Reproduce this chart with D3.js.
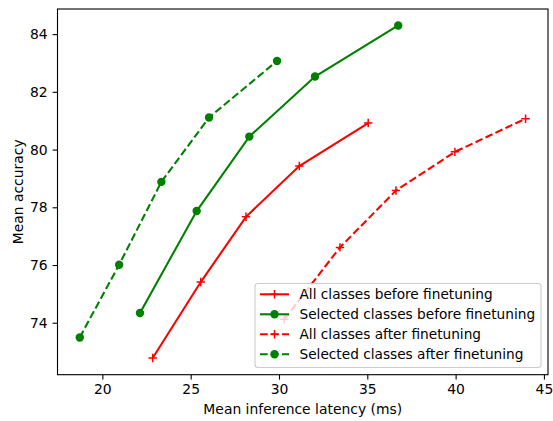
<!DOCTYPE html>
<html><head><meta charset="utf-8">
<script src="https://cdn.jsdelivr.net/npm/d3@7"></script>
<style>body{margin:0;background:#fff}svg{display:block;font-family:"DejaVu Sans",sans-serif}</style>
</head><body><svg id="c" width="553" height="421"></svg>
<script>
const seriesNames = ["All classes before finetuning","Selected classes before finetuning","All classes after finetuning","Selected classes after finetuning"];
const allBeforeX = [22.85, 25.57, 28.13, 31.15, 35.05];
const allBeforeY = [72.78, 75.41, 77.67, 79.43, 80.92];
const selBeforeX = [22.13, 25.34, 28.32, 32.04, 36.75];
const selBeforeY = [74.34, 77.87, 80.45, 82.53, 84.30];
const allAfterX = [30.30, 33.45, 36.62, 39.96, 43.96];
const allAfterY = [74.12, 76.61, 78.58, 79.92, 81.07];
const selAfterX = [18.72, 20.95, 23.34, 26.04, 29.89];
const selAfterY = [73.49, 76.01, 78.88, 81.11, 83.07];
const xTicks = [20, 25, 30, 35, 40, 45];
const yTicks = [74, 76, 78, 80, 82, 84];

const DASH = "7.7,3.3";
const series = [
  {name: seriesNames[0], xs: allBeforeX, ys: allBeforeY, color: "red", dash: null, marker: "plus"},
  {name: seriesNames[1], xs: selBeforeX, ys: selBeforeY, color: "green", dash: null, marker: "circle"},
  {name: seriesNames[2], xs: allAfterX, ys: allAfterY, color: "red", dash: DASH, marker: "plus"},
  {name: seriesNames[3], xs: selAfterX, ys: selAfterY, color: "green", dash: DASH, marker: "circle"}
];

const L = 57.5, R = 548, T = 9, B = 374.7;
const FS = 13.9;
const x = d3.scaleLinear().domain([17.46, 45.23]).range([L, R]);
const y = d3.scaleLinear().domain([72.2, 84.87]).range([B, T]);
const svg = d3.select("#c");

const plot = svg.append("g");
const line = d3.line().x(d => x(d[0])).y(d => y(d[1]));

function drawMarker(g, type, cx, cy, color) {
  if (type === "circle") {
    g.append("circle").attr("cx", cx).attr("cy", cy).attr("r", 4.2).attr("fill", color);
  } else {
    const s = 4.2;
    g.append("path").attr("d", `M${cx - s},${cy}H${cx + s}M${cx},${cy - s}V${cy + s}`)
      .attr("stroke", color).attr("stroke-width", 1.5).attr("fill", "none");
  }
}

series.forEach(s => {
  const pts = s.xs.map((v, i) => [v, s.ys[i]]);
  plot.append("path").attr("d", line(pts)).attr("fill", "none")
    .attr("stroke", s.color).attr("stroke-width", 2.08)
    .attr("stroke-dasharray", s.dash);
  pts.forEach(p => drawMarker(plot, s.marker, x(p[0]), y(p[1]), s.color));
});

// axes
const xAxis = svg.append("g").attr("transform", `translate(0,${B})`)
  .call(d3.axisBottom(x).tickValues(xTicks).tickSize(4.9).tickPadding(4.9).tickFormat(d3.format("d")));
const yAxis = svg.append("g").attr("transform", `translate(${L},0)`)
  .call(d3.axisLeft(y).tickValues(yTicks).tickSize(4.9).tickPadding(4.9).tickFormat(d3.format("d")));
[xAxis, yAxis].forEach(a => {
  a.select(".domain").remove();
  a.selectAll("line").attr("stroke", "#000").attr("stroke-width", 1.1);
  a.selectAll("text").attr("font-size", FS).attr("fill", "#000").attr("font-family", "DejaVu Sans");
});

svg.append("rect").attr("x", L).attr("y", T).attr("width", R - L).attr("height", B - T)
  .attr("fill", "none").attr("stroke", "#000").attr("stroke-width", 1.1);

svg.append("text").attr("x", (L + R) / 2).attr("y", 413.5).attr("text-anchor", "middle")
  .attr("font-size", FS).text("Mean inference latency (ms)");
svg.append("text").attr("transform", `translate(23,${(T + B) / 2}) rotate(-90)`)
  .attr("text-anchor", "middle").attr("font-size", FS).text("Mean accuracy");

// legend
const lg = svg.append("g");
lg.append("rect").attr("x", 255).attr("y", 283.5).attr("width", 286).attr("height", 84)
  .attr("rx", 3).attr("fill", "#fff").attr("fill-opacity", 0.8)
  .attr("stroke", "#cccccc").attr("stroke-width", 1.1);
series.forEach((s, i) => {
  const yy = 294.3 + i * 20;
  lg.append("line").attr("x1", 260).attr("x2", 289).attr("y1", yy).attr("y2", yy)
    .attr("stroke", s.color).attr("stroke-width", 2.08).attr("stroke-dasharray", s.dash)
    .attr("stroke-dashoffset", s.dash ? 0 : null);
  drawMarker(lg, s.marker, 274.5, yy, s.color);
  lg.append("text").attr("x", 299.5).attr("y", yy).attr("dy", "0.35em")
    .attr("font-size", 13.7).text(s.name);
});
</script></body></html>
